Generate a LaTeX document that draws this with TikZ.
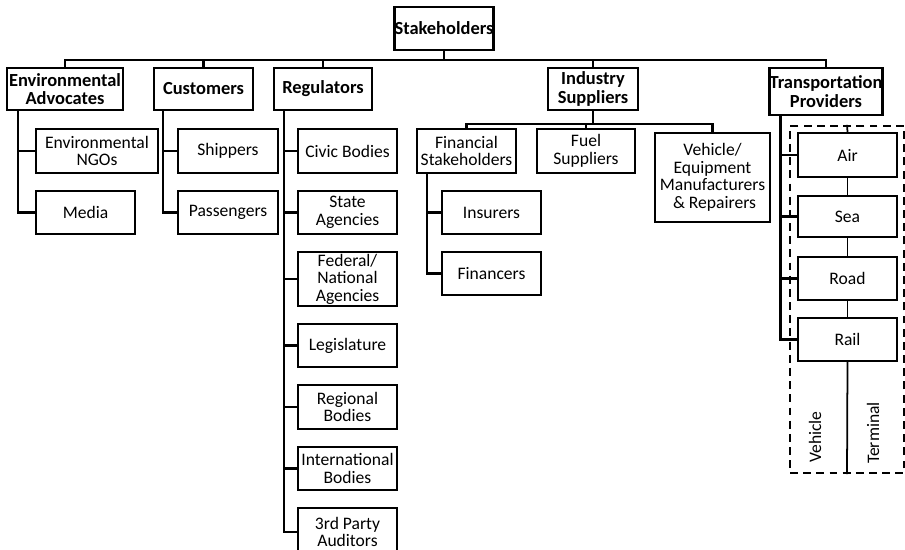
\documentclass[tikz,border=0pt]{standalone}
\usepackage{fontspec}
\setmainfont{Carlito}
\newcommand\bx[7][]{\node[box,#1,minimum width={(#5-#3)*0.02cm},minimum height={(#6-#4)*0.02cm}] (#2) at ({(#3+#5)/2},{(#4+#6)/2}) {#7};}
\begin{document}
\begin{tikzpicture}[x=0.02cm,y=-0.02cm,
  box/.style={draw,line width=1.3pt,inner sep=0pt,align=center,font=\fontsize{10}{10}\selectfont},
  head/.style={font=\fontsize{10.5}{10.5}\selectfont\bfseries},
  link/.style={line width=1.3pt,line join=miter},
  thin link/.style={line width=1pt},
  modebox/.style={draw,line width=1.3pt,dash pattern=on 4.5pt off 3pt,inner sep=0pt}]
\useasboundingbox (0,0) rectangle (905,550);
% top level
\bx[head]{stake}{395}{7}{493}{50}{Stakeholders}
\bx[head]{env}{7}{68}{123}{110}{Environmental\\Advocates}
\bx[head]{cust}{154}{68}{253}{110}{Customers}
\bx[head]{reg}{274}{68}{372}{110}{Regulators}
\bx[head]{ind}{548}{68}{638}{110}{Industry\\Suppliers}
\bx[head]{trans}{770}{68}{882}{115}{Transportation\\Providers}
% environmental advocates
\bx{ngo}{36}{129}{158}{173}{Environmental\\NGOs}
\bx{media}{36}{191}{135}{234}{Media}
% customers
\bx{ship}{178}{129}{278}{173}{Shippers}
\bx{pass}{178}{191}{278}{234}{Passengers}
% regulators
\bx{civic}{298}{129}{397}{173}{Civic Bodies}
\bx{state}{298}{191}{397}{234}{State\\Agencies}
\bx{fed}{298}{252}{397}{306}{Federal/\\National\\Agencies}
\bx{leg}{298}{324}{397}{367}{Legislature}
\bx{regb}{298}{385}{397}{429}{Regional\\Bodies}
\bx{intl}{298}{447}{397}{490}{International\\Bodies}
\bx{third}{298}{508}{397}{556}{3rd Party\\Auditors}
% industry suppliers
\bx{fin}{417}{129}{516}{173}{Financial\\Stakeholders}
\bx{fuel}{537}{129}{635}{173}{Fuel\\Suppliers}
\bx{veh}{655}{133}{770}{222}{Vehicle/\\Equipment\\Manufacturers\\\ \& Repairers}
\bx{ins}{442}{191}{541}{234}{Insurers}
\bx{finc}{442}{252}{541}{295}{Financers}
% transportation providers
\node[modebox,minimum width={114*0.02cm},minimum height={347*0.02cm}] (mode) at (847,299.5) {};
\bx{air}{798}{133}{897}{177}{Air}
\bx{sea}{798}{196}{897}{237}{Sea}
\bx{road}{798}{257}{897}{300}{Road}
\bx{rail}{798}{318}{897}{361}{Rail}
\node[rotate=90,font=\fontsize{10}{10}\selectfont] (vlab) at (815,437) {Vehicle};
\node[rotate=90,font=\fontsize{10}{10}\selectfont] (tlab) at (873,433) {Terminal};
% connectors: top bus
\draw[link] (stake.south) -- ++(0,9) -| (env.north);
\draw[link] (stake.south) -- ++(0,9) -| (cust.north);
\draw[link] (stake.south) -- ++(0,9) -| (reg.north);
\draw[link] (stake.south) -- ++(0,9) -| (ind.north);
\draw[link] (stake.south) -- ++(0,9) -| (trans.north);
% environmental advocates
\draw[link] (env.south west) ++(12,0) |- (ngo.west);
\draw[link] (env.south west) ++(12,0) |- (media.west);
% customers
\draw[link] (cust.south west) ++(10,0) |- (ship.west);
\draw[link] (cust.south west) ++(10,0) |- (pass.west);
% regulators
\foreach \n in {civic,state,fed,leg,regb,intl,third}
  \draw[link] (reg.south west) ++(11,0) |- (\n.west);
% industry suppliers
\draw[link] (ind.south) -- ++(0,13) -| (fin.north);
\draw[link] (ind.south) -- ++(0,13) -| (fuel.north);
\draw[link] (ind.south) -- ++(0,13) -| (veh.north);
\draw[link] (fin.south west) ++(11,0) |- (ins.west);
\draw[link] (fin.south west) ++(11,0) |- (finc.west);
% transportation providers
\foreach \n in {air,sea,road,rail}
  \draw[link] (trans.south west) ++(12,0) |- (\n.west);
\draw[thin link] (mode.north) -- (air.north);
\draw[thin link] (air.south) -- (sea.north);
\draw[thin link] (sea.south) -- (road.north);
\draw[thin link] (road.south) -- (rail.north);
\draw[thin link] (rail.south) -- (mode.south);
\end{tikzpicture}
\end{document}
